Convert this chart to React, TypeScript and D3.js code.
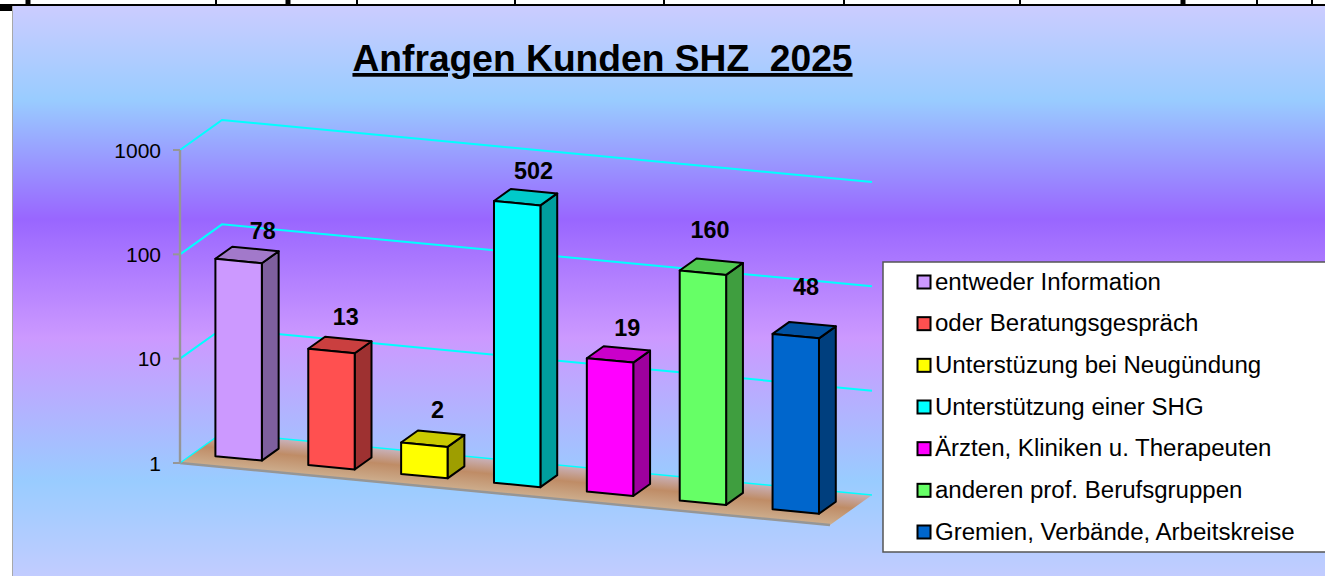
import React from "react";
import * as d3 from "d3";

const categories = [
  "entweder Information",
  "oder Beratungsgespräch",
  "Unterstüzung bei Neugündung",
  "Unterstützung einer SHG",
  "Ärzten, Kliniken u. Therapeuten",
  "anderen prof. Berufsgruppen",
  "Gremien, Verbände, Arbeitskreise",
];
const values = [78, 13, 2, 502, 19, 160, 48];
const frontColors = ["#CC99FF", "#FF5050", "#FFFF00", "#00FFFF", "#FF00FF", "#66FF66", "#0066CC"];
const yTicks = [1, 10, 100, 1000];
const title = "Anfragen Kunden SHZ  2025";
const rulerTicks = [28, 216, 288, 357, 515, 664, 844, 1020, 1183, 1257, 1312];
const thickRulerTicks = [28, 288, 1183];

const W = 1325;
const H = 576;
const FONT = "'Liberation Sans', Arial, sans-serif";

// 3D-looking projection: u along category axis, depth 0..1 into the chart
const x0 = 180;
const floorW = 650;
const slope = 62 / 650;
const depthX = 42;
const depthY = 30;

const xBand = d3.scaleBand<number>().domain(d3.range(categories.length)).range([0, floorW]).padding(0);
const yLog = d3.scaleLog().domain([1, 1000]).range([463, 150]);

const project = (u: number, d: number, v: number): [number, number] => [
  x0 + u + d * depthX,
  yLog(v) + u * slope - d * depthY,
];
const path = (pts: [number, number][], close = true) =>
  "M" + pts.map((p) => p.map((n) => n.toFixed(2)).join(",")).join("L") + (close ? "Z" : "");

const labelNudge: [number, number][] = [
  [-4, -1],
  [-14, -5],
  [-15, -6],
  [-12, -3],
  [-11, -3],
  [-21, -14],
  [-18, -20],
];

function Bar({ i }: { i: number }) {
  const band = xBand.bandwidth();
  const u0 = xBand(i)! + band / 4 - 0.4;
  const u1 = u0 + band / 2;
  const d0 = 0.3;
  const d1 = 0.7;
  const v = values[i];
  const base = d3.color(frontColors[i])!;
  const top = base.darker(0.65).formatHex();
  const side = base.darker(1.35).formatHex();
  const stroke = { stroke: "#000", strokeWidth: 2, strokeLinejoin: "round" as const };
  return (
    <g>
      <path
        d={path([project(u1, d0, 1), project(u1, d1, 1), project(u1, d1, v), project(u1, d0, v)])}
        fill={side}
        {...stroke}
      />
      <path
        d={path([project(u0, d0, v), project(u1, d0, v), project(u1, d1, v), project(u0, d1, v)])}
        fill={top}
        {...stroke}
      />
      <path
        d={path([project(u0, d0, 1), project(u1, d0, 1), project(u1, d0, v), project(u0, d0, v)])}
        fill={frontColors[i]}
        {...stroke}
      />
    </g>
  );
}

function BarLabel({ i }: { i: number }) {
  const band = xBand.bandwidth();
  const u0 = xBand(i)! + band / 4;
  const [x, y] = project(u0 + band / 4, 0.7, values[i]);
  return (
    <text
      x={x + 11 + labelNudge[i][0]}
      y={y - 9 + labelNudge[i][1]}
      textAnchor="middle"
      fontFamily={FONT}
      fontWeight="bold"
      fontSize={23.4}
      fill="#000"
    >
      {values[i]}
    </text>
  );
}

export default function App() {
  const legendY = d3
    .scalePoint<number>()
    .domain(d3.range(categories.length))
    .range([282, 532]);
  // floor gradient runs across the depth of the floor, perpendicular to its long edges
  const [gx, gy] = project(0, 1, 1);
  const gap = depthY + depthX * slope;
  const gn = 1 + slope * slope;
  const floorGrad = { x1: gx, y1: gy, x2: gx - (gap * slope) / gn, y2: gy + gap / gn };
  return (
    <svg
      width={W}
      height={H}
      viewBox={`0 0 ${W} ${H}`}
      style={{ position: "absolute", left: 0, top: 0, display: "block" }}
    >
      <defs>
        <linearGradient id="bg" gradientUnits="userSpaceOnUse" x1={0} y1={5} x2={0} y2={600}>
          <stop offset={0} stopColor="#CCCCFF" />
          <stop offset={0.16} stopColor="#99CCFF" />
          <stop offset={0.36} stopColor="#9966FF" />
          <stop offset={0.56} stopColor="#CC99FF" />
          <stop offset={0.8} stopColor="#99CCFF" />
          <stop offset={1} stopColor="#CCCCFF" />
        </linearGradient>
        <linearGradient id="floor" gradientUnits="userSpaceOnUse" {...floorGrad}>
          <stop offset={0} stopColor="#C9B2BC" />
          <stop offset={0.45} stopColor="#BF8C66" />
          <stop offset={1} stopColor="#CDAE8E" />
        </linearGradient>
      </defs>

      <rect x={0} y={0} width={W} height={H} fill="#fff" />
      <rect x={12} y={5} width={W - 12} height={H - 5} fill="url(#bg)" />
      <line x1={12.5} y1={5} x2={12.5} y2={H} stroke="#A8A8A8" strokeWidth={1} />
      <rect x={0} y={5} width={12} height={6} fill="#000" />
      <line x1={0} y1={5} x2={W} y2={5} stroke="#000" strokeWidth={2} />
      {rulerTicks.map((x) => (
        <line
          key={x}
          x1={x}
          y1={0}
          x2={x}
          y2={5}
          stroke="#000"
          strokeWidth={thickRulerTicks.includes(x) ? 5 : 2}
        />
      ))}

      <text
        x={602.5}
        y={71}
        textAnchor="middle"
        fontFamily={FONT}
        fontWeight="bold"
        fontSize={37.2}
        textDecoration="underline"
        style={{ whiteSpace: "pre" }}
      >
        {title}
      </text>

      {/* floor */}
      <path
        d={path([project(0, 0, 1), project(0, 1, 1), project(floorW, 1, 1), project(floorW, 0, 1)])}
        fill="url(#floor)"
      />
      <path
        d={path([project(0, 0, 1), project(floorW, 0, 1)], false)}
        fill="none"
        stroke="#969696"
        strokeWidth={2.4}
      />

      {/* gridlines */}
      {yTicks.map((t) => (
        <path
          key={t}
          d={path([project(0, 0, t), project(0, 1, t), project(floorW, 1, t)], false)}
          fill="none"
          stroke="#00FFFF"
          strokeWidth={t === 1 ? 1.4 : 2}
        />
      ))}

      {/* axis */}
      <line x1={x0} y1={yLog(1)} x2={x0} y2={yLog(1000)} stroke="#969696" strokeWidth={2.4} />
      {yTicks.map((t) => (
        <g key={t}>
          <line x1={x0 - 7} y1={yLog(t)} x2={x0} y2={yLog(t)} stroke="#969696" strokeWidth={2} />
          <text
            x={161}
            y={yLog(t) + 7.5}
            textAnchor="end"
            fontFamily={FONT}
            fontSize={21}
            fill="#000"
          >
            {t}
          </text>
        </g>
      ))}

      {values.map((_, i) => (
        <Bar key={i} i={i} />
      ))}
      {values.map((_, i) => (
        <BarLabel key={i} i={i} />
      ))}

      {/* legend */}
      <rect x={883} y={262} width={W - 883 + 2} height={290} fill="#fff" stroke="#555" strokeWidth={1.5} />
      {categories.map((c, i) => (
        <g key={c}>
          <rect
            x={917.5}
            y={legendY(i)! - 6.5}
            width={13}
            height={13}
            fill={frontColors[i]}
            stroke="#000"
            strokeWidth={2}
          />
          <text x={935} y={legendY(i)! + 7.5} fontFamily={FONT} fontSize={24.05} fill="#000">
            {c}
          </text>
        </g>
      ))}
    </svg>
  );
}
